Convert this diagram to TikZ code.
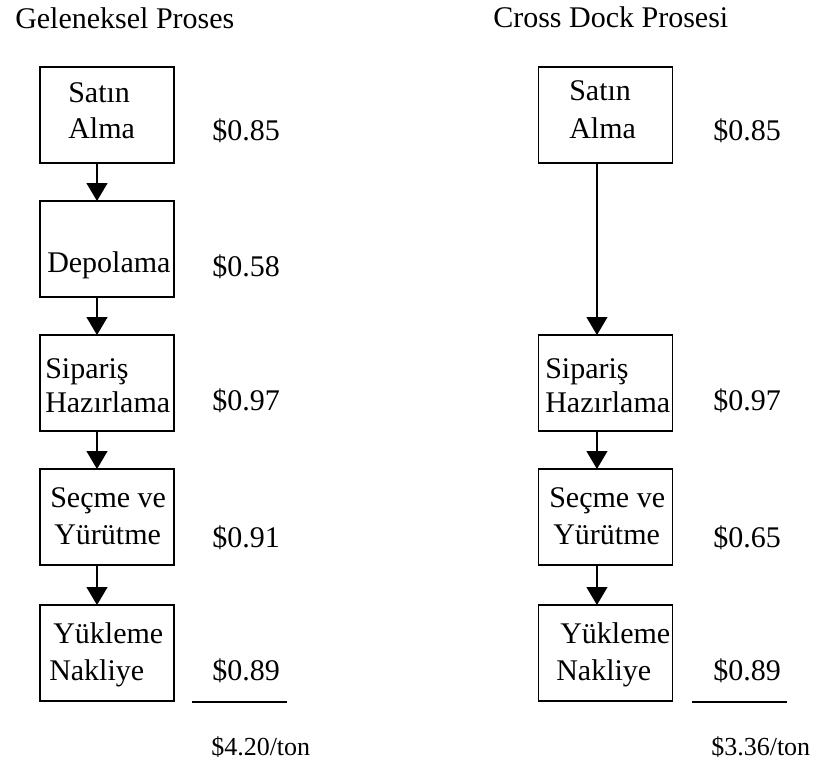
\documentclass[tikz,border=0pt]{standalone}
\usepackage{fontspec}
\setmainfont{Liberation Serif}
\usetikzlibrary{arrows.meta}
\begin{document}
\begin{tikzpicture}[x=0.75pt,y=-0.75pt,
  box/.style={draw,line width=1.1pt,rectangle,minimum width=100.5pt,minimum height=72pt,inner sep=0pt,outer sep=0pt},
  lbl/.style={anchor=base west,inner sep=0pt,font=\fontsize{22.5}{27}\selectfont},
  total/.style={anchor=base west,inner sep=0pt,font=\fontsize{19.5}{23}\selectfont},
  flow/.style={line width=0.9pt,-{Triangle[width=15.75pt,length=13.5pt]}}]
\path[use as bounding box] (0,0) rectangle (818,765);

% column titles
\node[lbl] (tL) at (15,28) {Geleneksel Proses};
\node[lbl] (tR) at (493,27) {Cross Dock Prosesi};

% traditional process boxes
\node[box] (L1) at (107,115) {};
\node[box] (L2) at (107,249) {};
\node[box] (L3) at (107,383) {};
\node[box] (L4) at (107,517) {};
\node[box] (L5) at (107,653) {};

\node[lbl] (L1a) at (68,102) {Satın};
\node[lbl] (L1b) at (68,138) {Alma};
\node[lbl] (L2a) at (47,272) {Depolama};
\node[lbl] (L3a) at (45,378) {Sipariş};
\node[lbl] (L3b) at (45,412) {Hazırlama};
\node[lbl] (L4a) at (50,507) {Seçme ve};
\node[lbl] (L4b) at (54,544) {Yürütme};
\node[lbl] (L5a) at (53,643) {Yükleme};
\node[lbl] (L5b) at (49,680) {Nakliye};

\draw[flow] ([xshift=-7.5pt]L1.south) -- ([xshift=-7.5pt]L2.north);
\draw[flow] ([xshift=-7.5pt]L2.south) -- ([xshift=-7.5pt]L3.north);
\draw[flow] ([xshift=-7.5pt]L3.south) -- ([xshift=-7.5pt]L4.north);
\draw[flow] ([xshift=-7.5pt]L4.south) -- ([xshift=-7.5pt]L5.north);

% traditional costs
\node[lbl] (cL1) at (212,140) {\$0.85};
\node[lbl] (cL2) at (212,276) {\$0.58};
\node[lbl] (cL3) at (212,410) {\$0.97};
\node[lbl] (cL4) at (212,547) {\$0.91};
\node[lbl] (cL5) at (212,680) {\$0.89};
\draw[line width=1.1pt] (192,702) -- (287,702);
\node[total] (sumL) at (211,755) {\$4.20/ton};

% cross dock boxes
\node[box] (R1) at (605.5,115) {};
\node[box] (R3) at (605.5,383) {};
\node[box] (R4) at (605.5,517) {};
\node[box] (R5) at (605.5,653) {};

\node[lbl] (R1a) at (569,100) {Satın};
\node[lbl] (R1b) at (569,138) {Alma};
\node[lbl] (R3a) at (545,378) {Sipariş};
\node[lbl] (R3b) at (545,412) {Hazırlama};
\node[lbl] (R4a) at (549,507) {Seçme ve};
\node[lbl] (R4b) at (553,544) {Yürütme};
\node[lbl] (R5a) at (560,643) {Yükleme};
\node[lbl] (R5b) at (556,680) {Nakliye};

\draw[flow] ([xshift=-6.4pt]R1.south) -- ([xshift=-6.4pt]R3.north);
\draw[flow] ([xshift=-6.4pt]R3.south) -- ([xshift=-6.4pt]R4.north);
\draw[flow] ([xshift=-6.4pt]R4.south) -- ([xshift=-6.4pt]R5.north);

% cross dock costs
\node[lbl] (cR1) at (713,140) {\$0.85};
\node[lbl] (cR3) at (713,410) {\$0.97};
\node[lbl] (cR4) at (713,547) {\$0.65};
\node[lbl] (cR5) at (713,680) {\$0.89};
\draw[line width=1.1pt] (692,702) -- (787,702);
\node[total] (sumR) at (711,755) {\$3.36/ton};
\end{tikzpicture}
\end{document}
